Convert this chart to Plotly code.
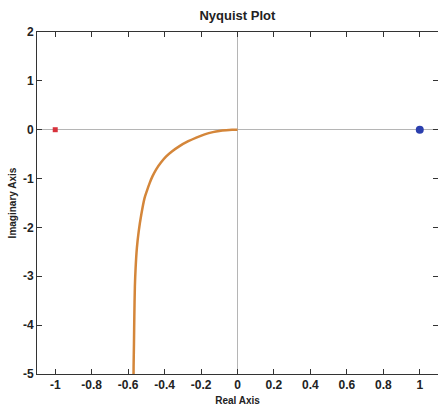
import plotly.graph_objects as go

# Nyquist curve points (real, imaginary)
curve_re = [0.0, -0.030, -0.062, -0.100, -0.135, -0.180, -0.226, -0.270, -0.318, -0.360,
            -0.391, -0.420, -0.446, -0.466, -0.482, -0.497, -0.510, -0.528, -0.542, -0.552,
            -0.559, -0.563, -0.566, -0.568, -0.570, -0.571]
curve_im = [0.0, -0.002, -0.010, -0.025, -0.049, -0.095, -0.160, -0.235, -0.335, -0.445,
            -0.546, -0.670, -0.810, -0.950, -1.093, -1.250, -1.400, -1.740, -2.080, -2.420,
            -2.830, -3.210, -3.820, -4.370, -4.840, -5.300]

crit_re = [-1]
crit_im = [0]
start_re = [1]
start_im = [0]

x_ticks = [-1, -0.8, -0.6, -0.4, -0.2, 0, 0.2, 0.4, 0.6, 0.8, 1]
x_labels = ["-1", "-0.8", "-0.6", "-0.4", "-0.2", "0", "0.2", "0.4", "0.6", "0.8", "1"]
y_ticks = [-5, -4, -3, -2, -1, 0, 1, 2]
y_labels = ["-5", "-4", "-3", "-2", "-1", "0", "1", "2"]

fig = go.Figure()
fig.add_trace(go.Scatter(x=curve_re, y=curve_im, mode="lines",
                         line=dict(color="#d4863a", width=2.5, shape="spline", smoothing=0.8),
                         showlegend=False, hoverinfo="skip"))
fig.add_trace(go.Scatter(x=crit_re, y=crit_im, mode="markers",
                         marker=dict(color="#d8323c", size=5, symbol="square"),
                         showlegend=False))
fig.add_trace(go.Scatter(x=start_re, y=start_im, mode="markers",
                         marker=dict(color="#2b3fae", size=8, symbol="circle"),
                         showlegend=False))

font = "Liberation Sans, Arial, sans-serif"
fig.update_layout(
    width=438, height=410,
    margin=dict(l=37, r=0, t=32, b=36),
    paper_bgcolor="white", plot_bgcolor="white",
    title=dict(text="<b>Nyquist Plot</b>", x=0.542, xanchor="center", y=0.963, yanchor="middle",
               font=dict(family=font, size=13, color="#222")),
    font=dict(family=font, color="#222"),
    xaxis=dict(range=[-1.1, 1.1], tickvals=x_ticks, ticktext=["<b>%s</b>" % t for t in x_labels],
               ticks="inside", ticklen=5, tickcolor="#333", showgrid=False,
               zeroline=True, zerolinecolor="#b5b5b5", zerolinewidth=1,
               showline=True, linecolor="#333", linewidth=1, mirror="ticks",
               tickfont=dict(size=12, family=font, color="#222"),
               title=dict(text="<b>Real Axis</b>", font=dict(size=10, family=font, color="#222"), standoff=5)),
    yaxis=dict(range=[-5, 2], tickvals=y_ticks, ticktext=["<b>%s</b>" % t for t in y_labels],
               ticks="inside", ticklen=5, tickcolor="#333", showgrid=False,
               zeroline=True, zerolinecolor="#b5b5b5", zerolinewidth=1,
               showline=True, linecolor="#333", linewidth=1, mirror="ticks",
               tickfont=dict(size=12, family=font, color="#222"),
               title=dict(text="<b>Imaginary Axis</b>", font=dict(size=10, family=font, color="#222"), standoff=4)),
)

fig.write_html("out.html")
